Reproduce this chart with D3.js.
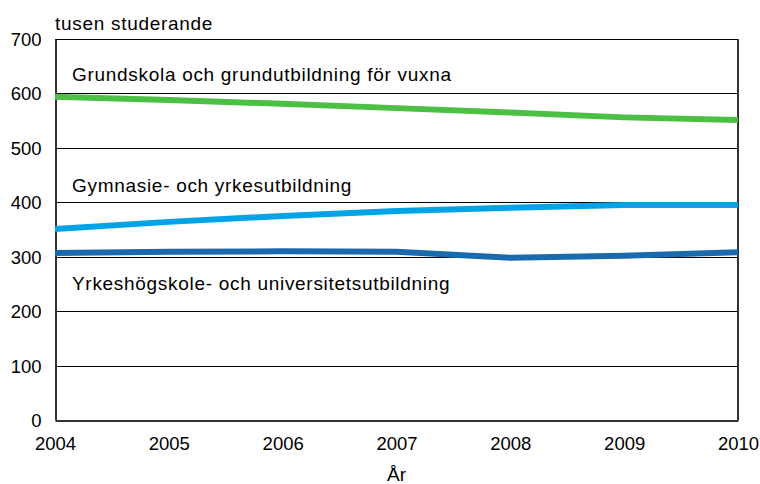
<!DOCTYPE html>
<html>
<head>
<meta charset="utf-8">
<script src="https://cdn.jsdelivr.net/npm/d3@7"></script>
<style>
  body { margin: 0; background: #fff; }
  text { font-family: "Liberation Sans", Arial, sans-serif; fill: #000; }
</style>
</head>
<body>
<div id="chart"></div>
<script>
/* data, thousands of students */
var years = [2004, 2005, 2006, 2007, 2008, 2009, 2010]
var grundskola = [594, 588, 581, 573, 565, 556, 551]
var gymnasie = [351, 364, 375, 384, 390, 395, 395]
var yrkeshogskola = [307, 309, 310, 309, 298, 302, 308]
var yTicks = [0, 100, 200, 300, 400, 500, 600, 700]

var seriesNames = [
  "Grundskola och grundutbildning för vuxna",
  "Gymnasie- och yrkesutbildning",
  "Yrkeshögskole- och universitetsutbildning"
]
var seriesColors = ["#4cbf45", "#00a3e6", "#1a6aae"]
var seriesValues = [grundskola, gymnasie, yrkeshogskola]
var labelValues = [623, 418, 239] // baseline of the series names, in data units

var width = 760, height = 484
var margin = {top: 39, right: 22, bottom: 64, left: 55}

var x = d3.scaleLinear().domain([2004, 2010]).range([margin.left, width - margin.right])
var y = d3.scaleLinear().domain([0, 700]).range([height - margin.bottom, margin.top])

var svg = d3.select("#chart").append("svg")
  .attr("width", width)
  .attr("height", height)

/* gridlines */
svg.selectAll(".grid").data(yTicks.filter(function(d) { return d > 0 })).enter()
  .append("line")
  .attr("class", "grid")
  .attr("x1", x(2004)).attr("x2", x(2010))
  .attr("y1", function(d) { return Math.round(y(d)) + 0.5 })
  .attr("y2", function(d) { return Math.round(y(d)) + 0.5 })
  .style("stroke", "#000")
  .style("stroke-width", 1)

/* frame: left, right, bottom */
var yAxis = d3.axisLeft(y).tickValues(yTicks).tickSize(0).tickPadding(14)
svg.append("g")
  .attr("transform", "translate(" + (x(2004) + 0.5) + ",0)")
  .call(yAxis)
  .call(function(g) {
    g.select(".domain").style("stroke", "#333").style("stroke-width", 2)
    g.selectAll("text").style("font-size", "18.5px").attr("dy", "0.35em")
  })

svg.append("line")
  .attr("x1", x(2010)).attr("x2", x(2010))
  .attr("y1", y(700)).attr("y2", y(0))
  .style("stroke", "#333").style("stroke-width", 2)

var xAxis = d3.axisBottom(x).tickValues(years).tickFormat(d3.format("d")).tickSize(0).tickPadding(16)
svg.append("g")
  .attr("transform", "translate(0," + (y(0) + 0.5) + ")")
  .call(xAxis)
  .call(function(g) {
    g.select(".domain").style("stroke", "#333").style("stroke-width", 2)
    g.selectAll("text").style("font-size", "18.5px")
  })

/* series lines */
var line = d3.line()
  .x(function(d, i) { return x(years[i]) })
  .y(function(d) { return y(d) })

svg.selectAll(".series").data(seriesValues).enter()
  .append("path")
  .attr("class", "series")
  .attr("d", line)
  .style("fill", "none")
  .style("stroke", function(d, i) { return seriesColors[i] })
  .style("stroke-width", 6)

/* series names inside the plot */
svg.selectAll(".seriesLabel").data(seriesNames).enter()
  .append("text")
  .attr("class", "seriesLabel")
  .text(function(d) { return d })
  .attr("x", x(2004) + 17)
  .attr("y", function(d, i) { return y(labelValues[i]) })
  .style("font-size", "19px")
  .style("letter-spacing", "0.7px")

/* unit and axis titles */
svg.append("text")
  .text("tusen studerande")
  .attr("x", margin.left)
  .attr("y", 30)
  .style("font-size", "19px")
  .style("letter-spacing", "0.7px")

svg.append("text")
  .text("År")
  .attr("x", x(2007))
  .attr("y", 481)
  .attr("text-anchor", "middle")
  .style("font-size", "19px")
</script>
</body>
</html>
